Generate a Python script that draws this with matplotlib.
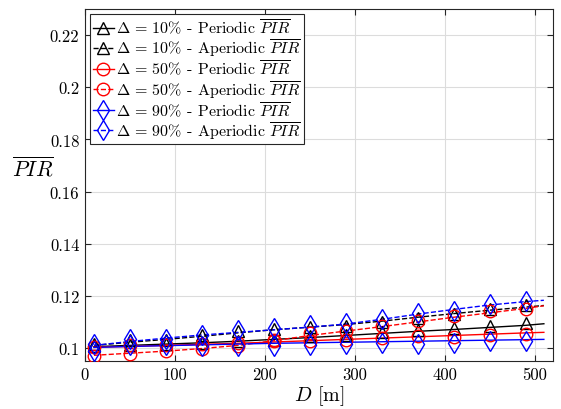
import matplotlib
matplotlib.use("Agg")
import matplotlib.pyplot as plt
from matplotlib.lines import Line2D
from matplotlib.ticker import FuncFormatter, MultipleLocator

plt.rcParams['font.family'] = 'cmr10'
plt.rcParams['mathtext.fontset'] = 'cm'
plt.rcParams['axes.formatter.use_mathtext'] = True

# marker positions (m) and fitted-line positions (m)
d_mark = [10, 50, 90, 130, 170, 210, 250, 290, 330, 370, 410, 450, 490]
d_line = [10, 50, 90, 130, 170, 210, 250, 290, 330, 370, 410, 450, 490, 510]

# fitted lines
p10_line = [0.1005, 0.1010, 0.1015, 0.1020, 0.1026, 0.1033, 0.1040, 0.1048, 0.1056, 0.1064, 0.1071, 0.1079, 0.1087, 0.1093]
a10_line = [0.1010, 0.1022, 0.1033, 0.1045, 0.1058, 0.1070, 0.1080, 0.1090, 0.1103, 0.1118, 0.1132, 0.1145, 0.1157, 0.1163]
p50_line = [0.1003, 0.1006, 0.1010, 0.1014, 0.1018, 0.1023, 0.1028, 0.1033, 0.1038, 0.1043, 0.1048, 0.1053, 0.1058, 0.1060]
a50_line = [0.0972, 0.0980, 0.0988, 0.0998, 0.1010, 0.1028, 0.1048, 0.1065, 0.1082, 0.1100, 0.1118, 0.1135, 0.1152, 0.1162]
p90_line = [0.1002, 0.1006, 0.1009, 0.1012, 0.1015, 0.1018, 0.1020, 0.1022, 0.1024, 0.1026, 0.1028, 0.1030, 0.1032, 0.1033]
a90_line = [0.1010, 0.1025, 0.1038, 0.1050, 0.1060, 0.1070, 0.1080, 0.1092, 0.1110, 0.1130, 0.1148, 0.1165, 0.1178, 0.1183]

# simulated points (markers)
p10_mark = [0.1008, 0.1012, 0.1015, 0.1020, 0.1025, 0.1030, 0.1045, 0.1050, 0.1060, 0.1070, 0.1078, 0.1086, 0.1097]
a10_mark = [0.1015, 0.1032, 0.1030, 0.1050, 0.1065, 0.1072, 0.1082, 0.1085, 0.1098, 0.1115, 0.1130, 0.1148, 0.1165]
p50_mark = [0.1003, 0.1010, 0.1012, 0.1015, 0.1018, 0.1025, 0.1028, 0.1032, 0.1038, 0.1045, 0.1042, 0.1048, 0.1055]
a50_mark = [0.0968, 0.0978, 0.0987, 0.0997, 0.1006, 0.1032, 0.1059, 0.1064, 0.1086, 0.1102, 0.1122, 0.1141, 0.1150]
p90_mark = [0.0990, 0.1013, 0.1013, 0.1006, 0.1006, 0.1009, 0.1013, 0.1017, 0.1019, 0.1016, 0.1020, 0.1025, 0.1025]
a90_mark = [0.1017, 0.1035, 0.1035, 0.1051, 0.1070, 0.1077, 0.1087, 0.1096, 0.1112, 0.1135, 0.1141, 0.1167, 0.1179]

labels = [r'$\Delta\,=\,10\%$ - Periodic $\overline{PIR}$',
          r'$\Delta\,=\,10\%$ - Aperiodic $\overline{PIR}$',
          r'$\Delta\,=\,50\%$ - Periodic $\overline{PIR}$',
          r'$\Delta\,=\,50\%$ - Aperiodic $\overline{PIR}$',
          r'$\Delta\,=\,90\%$ - Periodic $\overline{PIR}$',
          r'$\Delta\,=\,90\%$ - Aperiodic $\overline{PIR}$']

series = [
    (p10_line, p10_mark, 'k', '-', '^'),
    (a10_line, a10_mark, 'k', '--', '^'),
    (p50_line, p50_mark, 'r', '-', 'o'),
    (a50_line, a50_mark, 'r', '--', 'o'),
    (p90_line, p90_mark, 'b', '-', 'd'),
    (a90_line, a90_mark, 'b', '--', 'd'),
]

fig = plt.figure(figsize=(5.61, 4.10), dpi=100)
ax = fig.add_axes([0.1515, 0.117, 0.834, 0.8585])

handles = []
for (yl, ym, c, ls, mk), lab in zip(series, labels):
    ax.plot(d_line, yl, color=c, linestyle=ls, linewidth=1.0, zorder=3)
    ms = 10 if mk == 'd' else 9
    ax.plot(d_mark, ym, color=c, linestyle='none', marker=mk, markersize=ms,
            markerfacecolor='none', markeredgewidth=1.0, zorder=4)
    handles.append(Line2D([], [], color=c, linestyle=ls, linewidth=1.0, marker=mk,
                          markersize=ms, markerfacecolor='none', markeredgewidth=1.0))

ax.set_xlim(0, 520)
ax.set_ylim(0.095, 0.23)
ax.xaxis.set_major_locator(MultipleLocator(100))
ax.set_yticks([0.1, 0.12, 0.14, 0.16, 0.18, 0.2, 0.22])
ax.yaxis.set_major_formatter(FuncFormatter(lambda v, p: '%g' % round(v, 4)))
ax.xaxis.set_major_formatter(FuncFormatter(lambda v, p: '%d' % v))

ax.grid(True, color='#dcdcdc', linewidth=0.8)
ax.set_axisbelow(True)
ax.tick_params(direction='in', top=True, right=True, labelsize=12, length=4, width=0.8,
               color='#262626', pad=4)
for s in ax.spines.values():
    s.set_linewidth(0.8)
    s.set_color('#262626')

ax.set_xlabel(r'$D$ [m]', fontsize=14.5, labelpad=1)
ax.set_ylabel(r'$\overline{PIR}$', fontsize=15.5, rotation=0, ha='center', va='center')
ax.yaxis.set_label_coords(-0.111, 0.55)

leg = ax.legend(handles, labels, loc='upper left', fontsize=11.5, handlelength=1.3,
                handletextpad=0.12, borderpad=0.2, labelspacing=0.0,
                borderaxespad=0.3, fancybox=False, framealpha=1.0, edgecolor='#262626')
leg.get_frame().set_linewidth(0.8)

fig.savefig('out.png', dpi=100)
